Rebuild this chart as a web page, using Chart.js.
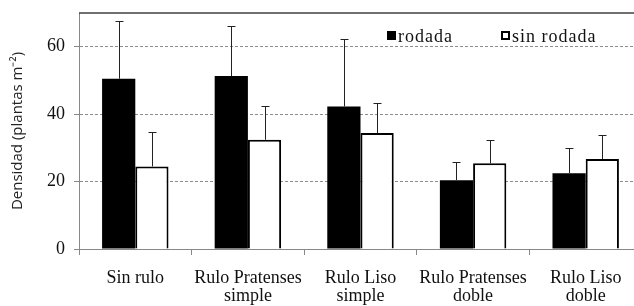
<!DOCTYPE html>
<html>
<head>
<meta charset="utf-8">
<script src="https://cdn.jsdelivr.net/npm/chart.js@4.4.0/dist/chart.umd.min.js"></script>
<style>
  html, body { margin: 0; padding: 0; background: #fff; overflow: hidden; }
  #wrap { position: relative; width: 644px; height: 306px; }
</style>
</head>
<body>
<div id="wrap"><canvas id="densidad"></canvas></div>
<script>
// datos (plantas por m2)
const categorias = [['Sin rulo'], ['Rulo Pratenses', 'simple'], ['Rulo Liso', 'simple'], ['Rulo Pratenses', 'doble'], ['Rulo Liso', 'doble']];
const rodada = [50.5, 51.3, 42.3, 20.4, 22.5];
const sinRodada = [24.5, 32.4, 34.4, 25.4, 26.7];
// desvio (solo se dibuja hacia arriba)
const errRodada = [17.0, 14.8, 20.1, 5.4, 7.5];
const errSinRodada = [10.2, 9.9, 9.0, 7.0, 7.0];
const yTicks = [0, 20, 40, 60];

const serif = '"Liberation Serif", serif';

// barras de error, borde de arriba y leyenda
const extras = {
    id: 'extras',
    afterDatasetsDraw(chart) {
        const ctx = chart.ctx;
        const y = chart.scales.y;
        const errores = [errRodada, errSinRodada];
        ctx.save();
        ctx.strokeStyle = '#222';
        ctx.lineWidth = 1;
        errores.forEach((errs, d) => {
            const meta = chart.getDatasetMeta(d);
            meta.data.forEach((bar, i) => {
                const top = Math.round(y.getPixelForValue(chart.data.datasets[d].data[i] + errs[i])) + 0.5;
                const x = Math.round(bar.x) + 0.5;
                ctx.beginPath();
                ctx.moveTo(x, bar.y);
                ctx.lineTo(x, top);
                ctx.moveTo(x - 4, top);
                ctx.lineTo(x + 4, top);
                ctx.stroke();
            });
        });
        ctx.restore();
    },
    afterDraw(chart) {
        const ctx = chart.ctx;
        const area = chart.chartArea;
        ctx.save();
        // linea superior
        ctx.strokeStyle = '#404040';
        ctx.lineWidth = 1.5;
        ctx.beginPath();
        ctx.moveTo(area.left, Math.round(area.top));
        ctx.lineTo(area.right, Math.round(area.top));
        ctx.stroke();

        // leyenda
        ctx.font = '18px ' + serif;
        ctx.letterSpacing = '1px';
        ctx.textBaseline = 'alphabetic';
        const items = [
            { x: 387, label: chart.data.datasets[0].label, hueco: false },
            { x: 501, label: chart.data.datasets[1].label, hueco: true }
        ];
        items.forEach(it => {
            ctx.fillStyle = '#000';
            ctx.fillRect(it.x, 31, 9, 9);
            if (it.hueco) {
                ctx.fillStyle = '#fff';
                ctx.fillRect(it.x + 2, 33, 5, 5);
            }
            ctx.fillStyle = '#111';
            ctx.fillText(it.label, it.x + 11, 42);
        });
        ctx.restore();
    }
};

const ctx = document.getElementById('densidad').getContext('2d');
new Chart(ctx, {
    type: 'bar',
    data: {
        labels: categorias,
        datasets: [{
            label: 'rodada',
            data: rodada,
            backgroundColor: '#000',
            borderColor: '#000',
            borderWidth: 0,
            barPercentage: 1,
            categoryPercentage: 0.59
        }, {
            label: 'sin rodada',
            data: sinRodada,
            backgroundColor: '#fff',
            borderColor: '#000',
            borderWidth: 2,
            barPercentage: 1,
            categoryPercentage: 0.59
        }]
    },
    options: {
        responsive: true,
        maintainAspectRatio: false,
        animation: false,
        layout: { padding: { top: 13, right: 2, left: 0, bottom: 0 } },
        plugins: {
            legend: { display: false },
            tooltip: { enabled: false }
        },
        scales: {
            x: {
                grid: { drawOnChartArea: false, offset: true, color: '#888', tickLength: 6 },
                border: { color: '#888', width: 1 },
                ticks: {
                    color: '#111',
                    font: { family: serif, size: 18, lineHeight: 1.0 },
                    padding: 14,
                    maxRotation: 0,
                    autoSkip: false
                },
                afterFit(scale) { scale.height = 57; scale.paddingLeft = 0; scale.paddingRight = 0; }
            },
            y: {
                min: 0,
                max: 70,
                afterBuildTicks(scale) {
                    scale.ticks = yTicks.map(v => ({ value: v }));
                },
                grid: { color: '#8c8c8c', tickLength: 5, tickColor: '#888', tickBorderDash: [] },
                border: { color: '#888', width: 1, dash: [3, 2] },
                ticks: {
                    color: '#111',
                    font: { family: serif, size: 18 },
                    padding: 9
                },
                title: {
                    display: true,
                    text: 'Densidad (plantas m⁻²)',
                    color: '#222',
                    font: { family: 'Open Sans', size: 15 },
                    padding: { top: 9, bottom: 0 }
                },
                afterFit(scale) { scale.width = 79; scale.paddingTop = 0; scale.paddingBottom = 0; }
            }
        }
    },
    plugins: [extras]
});
</script>
</body>
</html>
